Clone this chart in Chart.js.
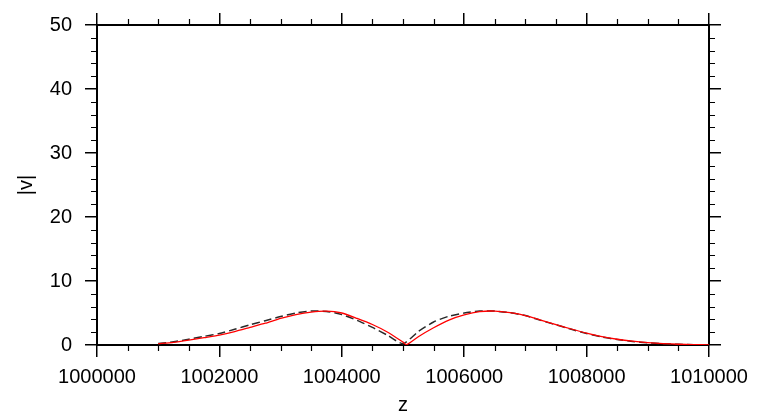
<!DOCTYPE html>
<html>
<head>
<meta charset="utf-8">
<script src="https://cdn.jsdelivr.net/npm/chart.js@4.4.0/dist/chart.umd.min.js"></script>
<style>
html, body { margin: 0; padding: 0; background: #fff; }
</style>
</head>
<body>
<canvas id="vChart" width="763" height="415"></canvas>
<script>
// values
var redZ = [1001000, 1001250, 1001500, 1001750, 1002000, 1002250, 1002500, 1002750,
    1003000, 1003250, 1003500, 1003750, 1004000, 1004250, 1004500, 1004750, 1005000,
    1005060, 1005250, 1005500, 1005750, 1006000, 1006250, 1006500, 1006750, 1007000,
    1007250, 1007500, 1007750, 1008000, 1008250, 1008500, 1008750, 1009000, 1009250,
    1009500, 1009750, 1010000];
var redV = [0.2, 0.4, 0.75, 1.15, 1.55, 2.1, 2.75, 3.4,
    4.15, 4.75, 5.15, 5.3, 5.0, 4.15, 3.2, 2.0, 0.45,
    0.05, 1.3, 2.7, 3.9, 4.7, 5.2, 5.3, 5.05, 4.6,
    3.9, 3.2, 2.5, 1.85, 1.3, 0.9, 0.6, 0.38, 0.22,
    0.12, 0.06, 0.02];

var blackZ = [1001000, 1001250, 1001500, 1001750, 1002000, 1002250, 1002500, 1002750,
    1003000, 1003250, 1003500, 1003750, 1004000, 1004250, 1004500, 1004750, 1005000,
    1005250, 1005500, 1005750, 1006000, 1006250, 1006500, 1006750, 1007000, 1007250,
    1007500, 1007750, 1008000, 1008250, 1008500, 1008750, 1009000, 1009250, 1009500,
    1009750, 1010000];
var blackV = [0.25, 0.5, 0.9, 1.35, 1.8, 2.45, 3.15, 3.8,
    4.45, 5.0, 5.3, 5.25, 4.75, 3.85, 2.75, 1.5, 0.2,
    2.1, 3.6, 4.5, 5.0, 5.3, 5.3, 5.05, 4.6, 3.85,
    3.15, 2.45, 1.8, 1.25, 0.85, 0.55, 0.35, 0.2, 0.1,
    0.05, 0.02];

var xMin = 1000000, xMax = 1010000, xMajor = 2000, xMinor = 500;
var yMin = 0, yMax = 50, yMajor = 10, yMinor = 2;

function pairs(xs, ys) {
    var out = [];
    for (var i = 0; i < xs.length; i++) {
        out.push({ x: xs[i], y: ys[i] });
    }
    return out;
}

var fontFam = "'Liberation Sans', Arial, Helvetica, sans-serif";

// minor ticks on all four sides, placed with the chart's own scales
var minorTicks = {
    id: 'minorTicks',
    afterDraw: function (chart) {
        var ctx = chart.ctx;
        var xs = chart.scales.x, ys = chart.scales.y;
        var a = chart.chartArea;
        ctx.save();
        ctx.strokeStyle = '#000';
        ctx.lineWidth = 1.2;
        ctx.beginPath();
        for (var z = xMin; z <= xMax; z += xMinor) {
            if ((z - xMin) % xMajor === 0) continue;
            var px = Math.round(xs.getPixelForValue(z)) + 0.5;
            ctx.moveTo(px, a.bottom); ctx.lineTo(px, a.bottom + 6);
            ctx.moveTo(px, a.top); ctx.lineTo(px, a.top - 6);
        }
        for (var v = yMin; v <= yMax; v += yMinor) {
            if ((v - yMin) % yMajor === 0) continue;
            var py = Math.round(ys.getPixelForValue(v)) + 0.5;
            ctx.moveTo(a.left, py); ctx.lineTo(a.left - 6, py);
            ctx.moveTo(a.right, py); ctx.lineTo(a.right + 6, py);
        }
        ctx.stroke();
        ctx.restore();
    }
};

var majorGrid = { drawOnChartArea: false, drawTicks: true, tickLength: 12, color: '#000', lineWidth: 1.5 };
var axisBorder = { display: true, color: '#000', width: 2 };

new Chart(document.getElementById('vChart'), {
    type: 'line',
    data: {
        datasets: [
            {
                label: 'red',
                data: pairs(redZ, redV),
                borderColor: '#ff0000',
                borderWidth: 1.3,
                pointRadius: 0,
                tension: 0.2,
                fill: false
            },
            {
                label: 'black',
                data: pairs(blackZ, blackV),
                borderColor: '#2a2a2a',
                borderWidth: 1.5,
                borderDash: [8, 4],
                pointRadius: 0,
                tension: 0.2,
                fill: false
            }
        ]
    },
    options: {
        responsive: false,
        animation: false,
        layout: { padding: 0 },
        plugins: {
            legend: { display: false },
            tooltip: { enabled: false }
        },
        scales: {
            x: {
                type: 'linear',
                position: 'bottom',
                min: xMin, max: xMax,
                grid: majorGrid,
                border: axisBorder,
                ticks: {
                    stepSize: xMajor,
                    maxRotation: 0,
                    padding: 8,
                    color: '#000',
                    font: { family: fontFam, size: 20 },
                    callback: function (v) { return String(v); }
                },
                title: {
                    display: true, text: 'z', color: '#000',
                    font: { family: fontFam, size: 20, lineHeight: 1 },
                    padding: { top: 0, bottom: 0 }
                },
                afterFit: function (s) { s.height = 70; }
            },
            x2: {
                type: 'linear',
                position: 'top',
                min: xMin, max: xMax,
                grid: majorGrid,
                border: axisBorder,
                ticks: { stepSize: xMajor, display: false },
                afterFit: function (s) { s.height = 20; }
            },
            y: {
                type: 'linear',
                position: 'left',
                min: yMin, max: yMax,
                grid: majorGrid,
                border: axisBorder,
                ticks: {
                    stepSize: yMajor,
                    padding: 13,
                    color: '#000',
                    font: { family: fontFam, size: 20 }
                },
                title: {
                    display: true, text: '|v|', color: '#000',
                    font: { family: fontFam, size: 20, lineHeight: 1 },
                    padding: { top: 16, bottom: 0 }
                },
                afterFit: function (s) { s.width = 97; }
            },
            y2: {
                type: 'linear',
                position: 'right',
                min: yMin, max: yMax,
                grid: majorGrid,
                border: axisBorder,
                ticks: { stepSize: yMajor, display: false },
                afterFit: function (s) { s.width = 54; }
            }
        }
    },
    plugins: [minorTicks]
});
</script>
</body>
</html>
